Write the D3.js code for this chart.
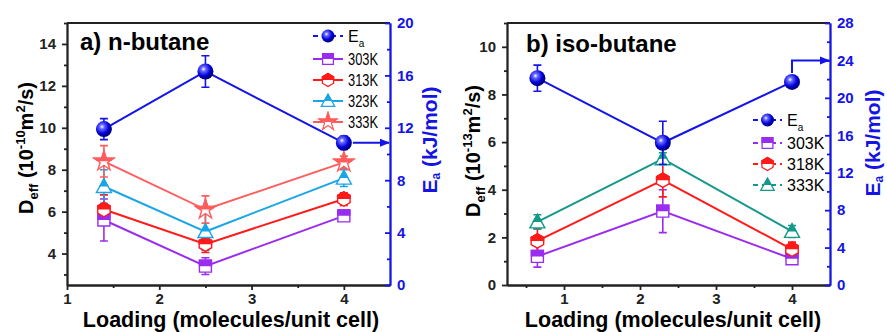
<!DOCTYPE html>
<html>
<head>
<meta charset="utf-8">
<script src="https://cdn.jsdelivr.net/npm/d3@7"></script>
<style>
  body { margin: 0; background: #fff; }
  svg { display: block; font-family: 'Liberation Sans', Arial, sans-serif; }
</style>
</head>
<body>
<svg id="chart" width="887" height="332"></svg>
<script>
// ---- n-butane (panel a) ----
const loadN = [1.4, 2.5, 4]
const eaN = [11.9, 16.3, 10.85]
const eaErrN = [0.8, 1.2, 0.5]
const d303N = [5.6, 3.4, 5.8]
const d303ErrN = [1.0, 0.4, 0.2]
const d313N = [6.1, 4.45, 6.6]
const d313ErrN = [0.7, 0.4, 0.3]
const d323N = [7.2, 5.05, 7.6]
const d323ErrN = [0.8, 0.9, 0.4]
const d333N = [8.4, 6.1, 8.35]
const d333ErrN = [0.75, 0.65, 0.3]
const tempsN = ['303K', '313K', '323K', '333K']
const xTicksN = [1, 2, 3, 4]
const yTicksN = [4, 6, 8, 10, 12, 14]
const eaTicksN = [0, 4, 8, 12, 16, 20]

// ---- iso-butane (panel b) ----
const loadI = [0.65, 2.3, 4]
const eaI = [22.1, 15.2, 21.7]
const eaErrI = [1.4, 2.3, 0]
const d303I = [1.2, 3.1, 1.1]
const d303ErrI = [0.45, 0.9, 0.2]
const d318I = [1.85, 4.4, 1.5]
const d318ErrI = [0.5, 0.7, 0.3]
const d333I = [2.65, 5.3, 2.25]
const d333ErrI = [0.3, 0.25, 0.25]
const tempsI = ['303K', '318K', '333K']
const xTicksI = [1, 2, 3, 4]
const yTicksI = [0, 2, 4, 6, 8, 10]
const eaTicksI = [0, 4, 8, 12, 16, 20, 24, 28]

const BLUE = '#1414e6'
const PURPLE = '#9a2cf0'
const RED = '#ff1a1a'
const CYAN = '#1aa6e6'
const PINK = '#ff5c5c'
const TEAL = '#14998a'

const svg = d3.select('#chart')
const defs = svg.append('defs')

const grad = defs.append('radialGradient').attr('id', 'ball')
    .attr('cx', '38%').attr('cy', '35%').attr('r', '65%')
grad.append('stop').attr('offset', '0%').attr('stop-color', '#ffffff')
grad.append('stop').attr('offset', '22%').attr('stop-color', '#6a6aff')
grad.append('stop').attr('offset', '65%').attr('stop-color', '#0000dd')
grad.append('stop').attr('offset', '100%').attr('stop-color', '#00006a')

defs.append('clipPath').attr('id', 'topHalf')
    .append('rect').attr('x', -20).attr('y', -20).attr('width', 40).attr('height', 20)

defs.append('marker').attr('id', 'arrow')
    .attr('viewBox', '0 0 10 10').attr('refX', 9).attr('refY', 5)
    .attr('markerWidth', 5).attr('markerHeight', 5).attr('orient', 'auto')
    .append('path').attr('d', 'M0,1 L10,5 L0,9 Z').attr('fill', BLUE)

const shapes = {
    square: 'M-6,-6H6V6H-6Z',
    hex: (() => {
        let pts = d3.range(6).map(i => {
            let a = (-90 + 60 * i) * Math.PI / 180
            return [7.2 * Math.cos(a), 7.2 * Math.sin(a)]
        })
        return 'M' + pts.join('L') + 'Z'
    })(),
    tri: 'M0,-7.5L7.5,6L-7.5,6Z',
    star: d3.symbol(d3.symbolStar, 120)()
}

function halfMarker(g, shape, color, x, y, scale) {
    let m = g.append('g').attr('transform', `translate(${x},${y}) scale(${scale || 1})`)
    m.append('path').attr('d', shapes[shape]).attr('fill', '#fff')
        .attr('stroke', color).attr('stroke-width', 1.4)
    m.append('path').attr('d', shapes[shape]).attr('fill', color)
        .attr('stroke', color).attr('stroke-width', 1.4).attr('clip-path', 'url(#topHalf)')
}

function ball(g, x, y, r) {
    g.append('circle').attr('cx', x).attr('cy', y).attr('r', r).attr('fill', 'url(#ball)')
}

function errorBars(g, xs, ys, errs, xScale, yScale, color) {
    xs.forEach((xv, i) => {
        if (!errs[i]) return
        let cx = xScale(xv), y0 = yScale(ys[i] - errs[i]), y1 = yScale(ys[i] + errs[i])
        g.append('path')
            .attr('d', `M${cx},${y0}V${y1}M${cx - 4},${y0}H${cx + 4}M${cx - 4},${y1}H${cx + 4}`)
            .attr('stroke', color).attr('stroke-width', 1.6).attr('fill', 'none')
    })
}

function styleAxis(sel, color, size) {
    sel.selectAll('path,line').attr('stroke', color).attr('stroke-width', 1.8)
    sel.selectAll('text').attr('fill', color).attr('font-size', size || 15)
        .attr('font-weight', 'bold').attr('font-family', "'Liberation Sans', Arial, sans-serif")
}

function drawPanel(p) {
    let g = svg.append('g')
    let x = d3.scaleLinear().domain(p.xDomain).range([p.left, p.right])
    let y = d3.scaleLinear().domain(p.yDomain).range([p.bottom, p.top])
    let ea = d3.scaleLinear().domain(p.eaDomain).range([p.bottom, p.top])

    // top frame
    g.append('line').attr('x1', p.left).attr('x2', p.right).attr('y1', p.top).attr('y2', p.top)
        .attr('stroke', '#222').attr('stroke-width', 1.8)

    // minor ticks
    g.append('g').attr('transform', `translate(0,${p.bottom})`)
        .call(d3.axisBottom(x).tickValues(p.xMinor).tickSize(3).tickSizeOuter(0).tickFormat(''))
        .call(s => styleAxis(s, '#222'))
    g.append('g').attr('transform', `translate(${p.left},0)`)
        .call(d3.axisLeft(y).tickValues(p.yMinor).tickSize(3).tickSizeOuter(0).tickFormat(''))
        .call(s => styleAxis(s, '#222'))
    g.append('g').attr('transform', `translate(${p.right},0)`)
        .call(d3.axisRight(ea).tickValues(p.eaMinor).tickSizeInner(-3).tickSizeOuter(0).tickFormat(''))
        .call(s => styleAxis(s, BLUE))

    // major axes
    g.append('g').attr('transform', `translate(0,${p.bottom})`)
        .call(d3.axisBottom(x).tickValues(p.xTicks).tickSize(5).tickSizeOuter(0).tickPadding(3).tickFormat(d3.format('d')))
        .call(s => styleAxis(s, '#222'))
    g.append('g').attr('transform', `translate(${p.left},0)`)
        .call(d3.axisLeft(y).tickValues(p.yTicks).tickSize(5).tickSizeOuter(0).tickPadding(6).tickFormat(d3.format('d')))
        .call(s => styleAxis(s, '#222'))
    g.append('g').attr('transform', `translate(${p.right},0)`)
        .call(d3.axisRight(ea).tickValues(p.eaTicks).tickSizeInner(-5).tickSizeOuter(0).tickPadding(7).tickFormat(d3.format('d')))
        .call(s => styleAxis(s, BLUE))

    // series lines
    let line = d3.line().x(d => x(d[0])).y(d => y(d[1]))
    p.series.forEach(s => {
        g.append('path').datum(d3.zip(p.load, s.values)).attr('d', line)
            .attr('fill', 'none').attr('stroke', s.color).attr('stroke-width', 2)
    })
    p.series.forEach(s => errorBars(g, p.load, s.values, s.errs, x, y, s.color))
    p.series.forEach(s => {
        p.load.forEach((lv, i) => halfMarker(g, s.shape, s.color, x(lv), y(s.values[i])))
    })

    // Ea
    let eaLine = d3.line().x(d => x(d[0])).y(d => ea(d[1]))
    g.append('path').datum(d3.zip(p.load, p.ea)).attr('d', eaLine)
        .attr('fill', 'none').attr('stroke', BLUE).attr('stroke-width', 2)
    errorBars(g, p.load, p.ea, p.eaErr, x, ea, BLUE)
    p.load.forEach((lv, i) => ball(g, x(lv), ea(p.ea[i]), 8))

    // arrow towards the Ea axis
    let last = p.load.length - 1
    let ax = x(p.load[last]), ay = ea(p.ea[last])
    let arrowD = p.arrowLevel == null
        ? `M${ax + 9},${ay}H${p.right - 1}`
        : `M${ax},${ay - 9}V${ea(p.arrowLevel)}H${p.right - 1}`
    g.append('path').attr('d', arrowD).attr('fill', 'none').attr('stroke', BLUE)
        .attr('stroke-width', 2).attr('marker-end', 'url(#arrow)')

    // title
    g.append('text').attr('x', p.titleX).attr('y', p.titleY).attr('font-size', 24)
        .attr('font-weight', 'bold').text(p.title)

    // x label
    g.append('text').attr('x', p.xLabelX).attr('y', 327)
        .attr('text-anchor', 'middle').attr('font-size', 21.5).attr('font-weight', 'bold')
        .text('Loading (molecules/unit cell)')

    // D_eff label
    let dl = g.append('text').attr('transform', `translate(${p.dLabelX},${p.dLabelY}) rotate(-90)`)
        .attr('text-anchor', 'middle').attr('font-size', 20).attr('font-weight', 'bold')
    dl.append('tspan').text('D')
    dl.append('tspan').attr('font-size', 13).attr('dy', 5).text('eff')
    dl.append('tspan').attr('dy', -5).text(' (10')
    dl.append('tspan').attr('font-size', 13).attr('dy', -8).text(p.exponent)
    dl.append('tspan').attr('dy', 8).text('m')
    dl.append('tspan').attr('font-size', 13).attr('dy', -8).text('2')
    dl.append('tspan').attr('dy', 8).text('/s)')

    // Ea label
    let el = g.append('text').attr('transform', `translate(${p.eLabelX},${p.eLabelY}) rotate(-90)`)
        .attr('text-anchor', 'middle').attr('font-size', 21).attr('font-weight', 'bold').attr('fill', BLUE)
    el.append('tspan').text('E')
    el.append('tspan').attr('font-size', 12).attr('dy', 3).text('a')
    el.append('tspan').attr('dy', -3).text(' (kJ/mol)')

    // legend
    let lg = g.append('g')
    let L = p.legend
    let rowY = i => L.y0 + i * L.step
    lg.append('line').attr('x1', L.x0).attr('x2', L.x1).attr('y1', L.eaY).attr('y2', L.eaY)
        .attr('stroke', BLUE).attr('stroke-width', 2).attr('stroke-dasharray', '5,4')
    ball(lg, (L.x0 + L.x1) / 2, L.eaY, 6.5)
    let et = lg.append('text').attr('x', L.tx).attr('y', L.eaY + 6).attr('font-size', L.fs)
    et.append('tspan').text('E')
    et.append('tspan').attr('font-size', 10).attr('dy', 5).text('a')
    p.series.forEach((s, i) => {
        lg.append('line').attr('x1', L.x0).attr('x2', L.x1).attr('y1', rowY(i)).attr('y2', rowY(i))
            .attr('stroke', s.color).attr('stroke-width', 2)
            .attr('stroke-dasharray', L.dashed ? '5,4' : null)
        halfMarker(lg, s.shape, s.color, (L.x0 + L.x1) / 2, rowY(i), 0.9)
        let t = lg.append('text').attr('x', L.tx).attr('y', rowY(i) + 6).attr('font-size', L.fs)
            .text(p.temps[i])
        if (L.tl) t.attr('textLength', L.tl).attr('lengthAdjust', 'spacingAndGlyphs')
    })
}

drawPanel({
    left: 67, right: 390, top: 23, bottom: 285,
    xDomain: [1, 4.5], yDomain: [2.5, 15], eaDomain: [0, 20],
    xTicks: xTicksN, xMinor: [1.5, 2.5, 3.5],
    yTicks: yTicksN, yMinor: d3.range(3, 16, 2),
    eaTicks: eaTicksN, eaMinor: d3.range(2, 20, 4),
    load: loadN, ea: eaN, eaErr: eaErrN, arrowLevel: null,
    temps: tempsN,
    series: [
        { values: d303N, errs: d303ErrN, color: PURPLE, shape: 'square' },
        { values: d313N, errs: d313ErrN, color: RED, shape: 'hex' },
        { values: d323N, errs: d323ErrN, color: CYAN, shape: 'tri' },
        { values: d333N, errs: d333ErrN, color: PINK, shape: 'star' }
    ],
    title: 'a) n-butane', titleX: 80, titleY: 50,
    xLabelX: 231,
    exponent: '-10', dLabelX: 33, dLabelY: 148,
    eLabelX: 437, eLabelY: 140,
    legend: { x0: 313, x1: 343, tx: 348, eaY: 36, y0: 59, step: 21, fs: 16, tl: 30, dashed: false }
})

drawPanel({
    left: 507, right: 830, top: 23, bottom: 285,
    xDomain: [0.25, 4.5], yDomain: [0, 11], eaDomain: [0, 28],
    xTicks: xTicksI, xMinor: [0.5, 1.5, 2.5, 3.5],
    yTicks: yTicksI, yMinor: d3.range(1, 12, 2),
    eaTicks: eaTicksI, eaMinor: d3.range(2, 28, 4),
    load: loadI, ea: eaI, eaErr: eaErrI, arrowLevel: 24,
    temps: tempsI,
    series: [
        { values: d303I, errs: d303ErrI, color: PURPLE, shape: 'square' },
        { values: d318I, errs: d318ErrI, color: RED, shape: 'hex' },
        { values: d333I, errs: d333ErrI, color: TEAL, shape: 'tri' }
    ],
    title: 'b) iso-butane', titleX: 526, titleY: 52,
    xLabelX: 673,
    exponent: '-13', dLabelX: 480, dLabelY: 151,
    eLabelX: 880, eLabelY: 143,
    legend: { x0: 753, x1: 782, tx: 787, eaY: 120, y0: 143, step: 21, fs: 16, tl: null, dashed: true }
})
</script>
</body>
</html>
